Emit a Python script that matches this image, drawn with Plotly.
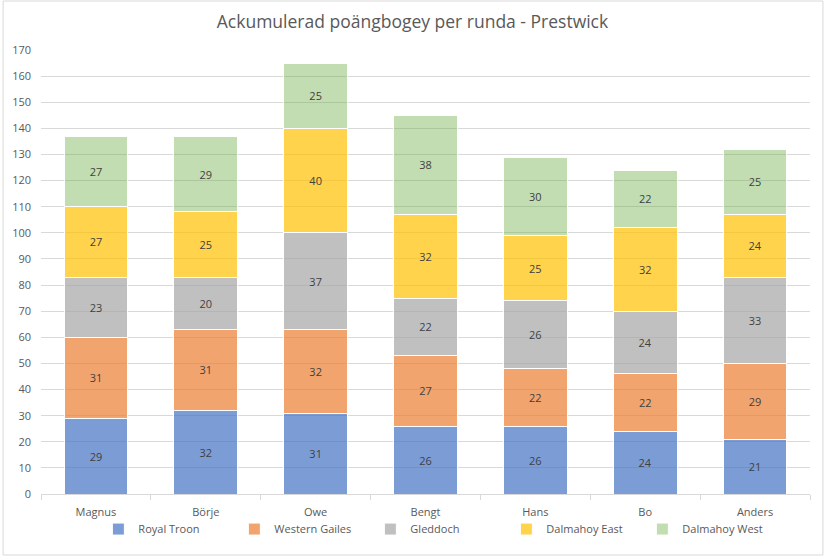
import plotly.graph_objects as go

players = ["Magnus", "Börje", "Owe", "Bengt", "Hans", "Bo", "Anders"]

royal_troon = [29, 32, 31, 26, 26, 24, 21]
western_gailes = [31, 31, 32, 27, 22, 22, 29]
gleddoch = [23, 20, 37, 22, 26, 24, 33]
dalmahoy_east = [27, 25, 40, 32, 25, 32, 24]
dalmahoy_west = [27, 29, 25, 38, 30, 22, 25]

series = [
    ("Royal Troon", royal_troon, "rgba(68,114,196,0.7)"),
    ("Western Gailes", western_gailes, "rgba(237,125,49,0.7)"),
    ("Gleddoch", gleddoch, "rgba(165,165,165,0.7)"),
    ("Dalmahoy East", dalmahoy_east, "rgba(255,192,0,0.7)"),
    ("Dalmahoy West", dalmahoy_west, "rgba(112,173,71,0.42)"),
]

font = "Open Sans, Liberation Sans, sans-serif"

fig = go.Figure()
for name, vals, col in series:
    fig.add_trace(go.Bar(
        x=players, y=vals, name=name,
        marker=dict(color=col, line=dict(color="white", width=1)),
        text=vals, textposition="inside", insidetextanchor="middle",
        textfont=dict(color="#404040", size=11, family=font),
    ))

# plot area: x 39..810, y 50..494 (771 x 444)
fig.update_layout(
    barmode="stack",
    bargap=0.42,
    width=825, height=557,
    margin=dict(l=39, r=15, t=50, b=63),
    paper_bgcolor="white",
    plot_bgcolor="white",
    font=dict(family=font, color="#595959", size=11),
    title=dict(text="Ackumulerad poängbogey per runda - Prestwick",
               x=0.5, xanchor="center", y=0.96, yanchor="middle",
               font=dict(size=17.5, color="#595959", family=font)),
    legend=dict(orientation="h", x=0.0746, xanchor="left", y=-0.079,
                yanchor="middle", font=dict(size=11, color="#595959"),
                bgcolor="rgba(0,0,0,0)",
                itemwidth=30, entrywidth=91, traceorder="normal"),
    showlegend=True,
    uniformtext=dict(minsize=8, mode="show"),
)
fig.update_xaxes(showline=True, linecolor="#D9D9D9", ticks="outside",
                 tickson="boundaries", ticklen=5, tickcolor="#D9D9D9",
                 showgrid=False, ticklabelstandoff=8)
fig.update_yaxes(range=[0, 170], dtick=10, gridcolor="#D9D9D9",
                 zeroline=False, showline=False, ticklabelstandoff=9)

# light frame around the chart
fig.add_shape(type="rect", xref="paper", yref="paper",
              x0=-38 / 771, x1=784 / 771, y0=-61 / 444, y1=493 / 444,
              line=dict(color="#D9D9D9", width=1))

fig.write_html("out.html", config={"displayModeBar": False},
               post_script="document.body.style.margin='0';")
